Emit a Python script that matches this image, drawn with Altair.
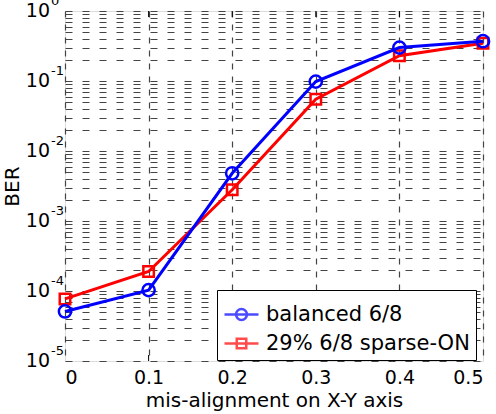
import altair as alt
import pandas as pd

# ---- data ----
x_vals = [0, 0.1, 0.2, 0.3, 0.4, 0.5]
ber_balanced = [5.1e-5, 1.03e-4, 4.8e-3, 0.098, 0.30, 0.37]
ber_sparse = [7.7e-5, 1.9e-4, 2.8e-3, 0.055, 0.23, 0.345]
series_names = ["balanced 6/8", "29% 6/8 sparse-ON"]
series_colors = ["#0000ff", "#ff0000"]
x_ticks = [0, 0.1, 0.2, 0.3, 0.4, 0.5]
decade_exps = [-5, -4, -3, -2, -1, 0]
minor_mult = [1, 2, 3, 4, 5, 6, 7, 8, 9]

FONT = "DejaVu Sans"
W, H = 418, 350

df_bal = pd.DataFrame({"x": x_vals, "ber": ber_balanced, "series": series_names[0]})
df_sp = pd.DataFrame({"x": x_vals, "ber": ber_sparse, "series": series_names[1]})
df_all = pd.concat([df_bal, df_sp], ignore_index=True)

grid_vals = [m * 10.0 ** e for e in decade_exps[:-1] for m in minor_mult] + [1.0]
df_dec = pd.DataFrame({
    "ber": [10.0 ** e for e in decade_exps],
    "base": ["10"] * len(decade_exps),
    "sup": [str(e) for e in decade_exps],
})
df_xt = pd.DataFrame({"x": x_ticks[1:-1]})

x_enc = alt.X("x:Q",
              scale=alt.Scale(domain=[0, 0.5], nice=False, zero=False),
              axis=alt.Axis(values=x_ticks, format="~g", title="mis-alignment on X-Y axis",
                            grid=True, gridDash=[6, 7], gridColor="#444444", gridWidth=1.2,
                            ticks=False, domain=False, labelFont=FONT, labelFontSize=19,
                            labelColor="black", labelPadding=7, titleFont=FONT,
                            titleFontSize=20, titleFontWeight="normal", titleColor="black",
                            titlePadding=3))
y_enc = alt.Y("ber:Q",
              scale=alt.Scale(type="log", domain=[1e-5, 1], nice=False),
              axis=alt.Axis(values=grid_vals, labels=False, ticks=False, domain=False,
                            grid=True, gridDash=[7, 10], gridColor="#444444", gridWidth=1.2,
                            title="BER", titleFont=FONT, titleFontSize=20,
                            titleFontWeight="normal", titleColor="black",
                            titleX=-53, titleBaseline="middle"))

def line_layer(df, color):
    return alt.Chart(df).mark_line(color=color, strokeWidth=3).encode(x=x_enc, y=y_enc)

red_line = line_layer(df_sp, series_colors[1])
red_pts = alt.Chart(df_sp).mark_point(shape="square", filled=False, color=series_colors[1],
                                      size=110, strokeWidth=2.5, opacity=1).encode(x=x_enc, y=y_enc)
blue_line = line_layer(df_bal, series_colors[0])
blue_pts = alt.Chart(df_bal).mark_point(shape="circle", filled=False, color=series_colors[0],
                                        size=150, strokeWidth=2.5, opacity=1).encode(x=x_enc, y=y_enc)

path_circle = "M-1,0L1,0M-0.32,0A0.32,0.32,0,1,1,0.32,0A0.32,0.32,0,1,1,-0.32,0Z"
path_square = "M-1,0L1,0M-0.28,-0.28L0.28,-0.28L0.28,0.28L-0.28,0.28Z"

leg = dict(orient="none", legendX=152, legendY=279, title=None, padding=6,
           strokeColor="black", fillColor="white", labelFont=FONT, labelFontSize=21,
           labelColor="black", labelOffset=6, labelLimit=400, rowPadding=0, symbolSize=1156,
           symbolStrokeWidth=2.5, symbolFillColor="transparent", cornerRadius=0)

legend_layer = alt.Chart(df_all).mark_point(filled=False, strokeWidth=2.5).encode(
    x=x_enc, y=y_enc,
    color=alt.Color("series:N", scale=alt.Scale(domain=series_names, range=series_colors),
                    legend=alt.Legend(**leg)),
    shape=alt.Shape("series:N", scale=alt.Scale(domain=series_names, range=[path_circle, path_square]),
                    legend=alt.Legend(**leg)),
).transform_filter("false")

ticks_bottom = alt.Chart(df_xt).mark_rule(color="black", strokeWidth=1).encode(
    x=x_enc, y=alt.value(H), y2=alt.value(H - 6))
ticks_top = alt.Chart(df_xt).mark_rule(color="black", strokeWidth=1).encode(
    x=x_enc, y=alt.value(0), y2=alt.value(6))

ylab_base = alt.Chart(df_dec).mark_text(align="right", baseline="middle", font=FONT,
                                        fontSize=19, color="black").encode(
    y=y_enc, x=alt.value(-15), text="base:N")
ylab_sup = alt.Chart(df_dec).mark_text(align="left", baseline="middle", font=FONT,
                                       fontSize=13, color="black", dy=-10).encode(
    y=y_enc, x=alt.value(-14), text="sup:N")

chart = alt.layer(
    ticks_bottom, ticks_top, red_line, red_pts, blue_line, blue_pts, legend_layer, ylab_base, ylab_sup
).properties(
    width=W, height=H,
    autosize=alt.AutoSizeParams(type="none"),
    padding={"left": 65, "top": 11, "right": 13, "bottom": 53},
).configure_view(stroke="black", strokeWidth=1.5
).configure_legend(strokeWidth=1.5).configure(background="white")

chart.save("out.html", embed_options={"renderer": "svg", "actions": False})
